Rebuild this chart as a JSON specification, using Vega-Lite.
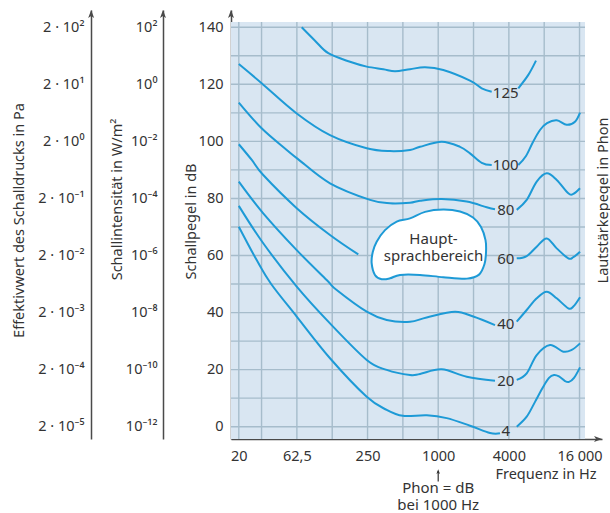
{
  "$schema": "https://vega.github.io/schema/vega-lite/v6.json",
  "width": 371,
  "height": 429,
  "autosize": {"type": "none"},
  "padding": {"left": 231, "top": 10, "right": 8, "bottom": 74},
  "background": "white",
  "config": {
    "view": {"stroke": null},
    "font": "Noto Sans",
    "text": {"font": "Noto Sans"},
    "axis": {
      "labelFont": "Noto Sans", "titleFont": "Noto Sans",
      "labelFontSize": 14.5, "titleFontSize": 14.5, "titleFontWeight": "normal",
      "labelColor": "#333333", "titleColor": "#333333",
      "domainColor": "#4a4a4a", "domainWidth": 1.5,
      "ticks": false, "tickSize": 0, "grid": false,
      "labelOverlap": false, "labelFlush": false, "labelBound": false
    }
  },
  "resolve": {"axis": {"y": "independent"}},
  "layer": [
    {
      "data": {"values": [{}]},
      "mark": {"type": "rect", "color": "#d9e6f2"},
      "encoding": {
        "x": {"datum": 17.16, "type": "quantitative",
          "scale": {"type": "log", "domain": [17.16, 24866], "nice": false},
          "axis": {
            "values": [20, 62.5, 250, 1000, 4000, 16000],
            "labelExpr": "datum.value == 62.5 ? '62,5' : datum.value == 16000 ? '16 000' : format(datum.value, 'd')",
            "labelPadding": 10,
            "title": "Frequenz in Hz", "titleX": 365, "titleY": 39,
            "titleAlign": "right", "titleBaseline": "alphabetic", "titleAnchor": "end"
          }},
        "x2": {"datum": 17816},
        "y": {"datum": -4.31, "type": "quantitative",
          "scale": {"domain": [-4.31, 146.05], "nice": false, "zero": false},
          "axis": {
            "orient": "left",
            "values": [0, 20, 40, 60, 80, 100, 120, 140],
            "labelPadding": 8,
            "title": "Schallpegel in dB", "titleX": -40, "titleY": 211,
            "titleAngle": 270, "titleAlign": "center", "titleBaseline": "middle"
          }},
        "y2": {"datum": 141.85}
      }
    },
    {
      "data": {"values": [{"freq": 20}, {"freq": 31.25}, {"freq": 62.5}, {"freq": 125}, {"freq": 250}, {"freq": 500}, {"freq": 1000}, {"freq": 2000}, {"freq": 4000}, {"freq": 8000}, {"freq": 16000}]},
      "mark": {"type": "rule", "color": "#a6bccb", "strokeWidth": 1.4},
      "encoding": {
        "x": {"field": "freq", "type": "quantitative"},
        "y": {"datum": -4.31, "type": "quantitative", "axis": null},
        "y2": {"datum": 141.85}
      }
    },
    {
      "data": {"values": [{"db": 0}, {"db": 10}, {"db": 20}, {"db": 30}, {"db": 40}, {"db": 50}, {"db": 60}, {"db": 70}, {"db": 80}, {"db": 90}, {"db": 100}, {"db": 110}, {"db": 120}, {"db": 130}, {"db": 140}]},
      "mark": {"type": "rule", "color": "#a6bccb", "strokeWidth": 1.4},
      "encoding": {
        "x": {"datum": 17.16, "type": "quantitative"},
        "x2": {"datum": 17816},
        "y": {"field": "db", "type": "quantitative", "axis": null}
      }
    },
    {
      "data": {"values": [
        {"phon": 125, "seg": 1, "freq": 68.7, "db": 140.0},
        {"phon": 125, "seg": 1, "freq": 89.2, "db": 135.3},
        {"phon": 125, "seg": 1, "freq": 115.8, "db": 130.9},
        {"phon": 125, "seg": 1, "freq": 177.2, "db": 127.9},
        {"phon": 125, "seg": 1, "freq": 246, "db": 126.2},
        {"phon": 125, "seg": 1, "freq": 340.6, "db": 125.3},
        {"phon": 125, "seg": 1, "freq": 428.5, "db": 124.6},
        {"phon": 125, "seg": 1, "freq": 575, "db": 125.3},
        {"phon": 125, "seg": 1, "freq": 772, "db": 126.0},
        {"phon": 125, "seg": 1, "freq": 1105, "db": 125.0},
        {"phon": 125, "seg": 1, "freq": 1866, "db": 121.3},
        {"phon": 125, "seg": 1, "freq": 2348, "db": 118.6},
        {"phon": 125, "seg": 1, "freq": 2857, "db": 117.4},
        {"phon": 125, "seg": 2, "freq": 4814, "db": 118.6},
        {"phon": 125, "seg": 2, "freq": 5858, "db": 123.3},
        {"phon": 125, "seg": 2, "freq": 6812, "db": 128.3},

        {"phon": 100, "seg": 1, "freq": 20, "db": 127.1},
        {"phon": 100, "seg": 1, "freq": 31.3, "db": 120.4},
        {"phon": 100, "seg": 1, "freq": 62.3, "db": 109.8},
        {"phon": 100, "seg": 1, "freq": 119.7, "db": 102.2},
        {"phon": 100, "seg": 1, "freq": 246, "db": 97.6},
        {"phon": 100, "seg": 1, "freq": 388.5, "db": 96.6},
        {"phon": 100, "seg": 1, "freq": 575, "db": 97.0},
        {"phon": 100, "seg": 1, "freq": 700, "db": 98.1},
        {"phon": 100, "seg": 1, "freq": 1071, "db": 99.9},
        {"phon": 100, "seg": 1, "freq": 1534, "db": 98.1},
        {"phon": 100, "seg": 1, "freq": 1866, "db": 95.8},
        {"phon": 100, "seg": 1, "freq": 2348, "db": 92.5},
        {"phon": 100, "seg": 1, "freq": 2857, "db": 91.7},
        {"phon": 100, "seg": 2, "freq": 4814, "db": 91.7},
        {"phon": 100, "seg": 2, "freq": 5598, "db": 94.9},
        {"phon": 100, "seg": 2, "freq": 6422, "db": 99.8},
        {"phon": 100, "seg": 2, "freq": 7368, "db": 104.0},
        {"phon": 100, "seg": 2, "freq": 8458, "db": 106.4},
        {"phon": 100, "seg": 2, "freq": 10226, "db": 107.4},
        {"phon": 100, "seg": 2, "freq": 12440, "db": 105.8},
        {"phon": 100, "seg": 2, "freq": 14640, "db": 106.9},
        {"phon": 100, "seg": 2, "freq": 16160, "db": 110.1},

        {"phon": 80, "seg": 1, "freq": 20, "db": 113.6},
        {"phon": 80, "seg": 1, "freq": 31.3, "db": 104.6},
        {"phon": 80, "seg": 1, "freq": 51.2, "db": 97.0},
        {"phon": 80, "seg": 1, "freq": 64.3, "db": 93.7},
        {"phon": 80, "seg": 1, "freq": 119.7, "db": 85.3},
        {"phon": 80, "seg": 1, "freq": 262.5, "db": 79.5},
        {"phon": 80, "seg": 1, "freq": 388.5, "db": 78.3},
        {"phon": 80, "seg": 1, "freq": 575, "db": 78.5},
        {"phon": 80, "seg": 1, "freq": 700, "db": 79.2},
        {"phon": 80, "seg": 1, "freq": 1071, "db": 79.8},
        {"phon": 80, "seg": 1, "freq": 1750, "db": 78.9},
        {"phon": 80, "seg": 1, "freq": 2590, "db": 76.9},
        {"phon": 80, "seg": 1, "freq": 3048, "db": 76.2},
        {"phon": 80, "seg": 2, "freq": 4666, "db": 76.0},
        {"phon": 80, "seg": 2, "freq": 5676, "db": 79.5},
        {"phon": 80, "seg": 2, "freq": 6906, "db": 85.9},
        {"phon": 80, "seg": 2, "freq": 8404, "db": 88.8},
        {"phon": 80, "seg": 2, "freq": 10226, "db": 86.5},
        {"phon": 80, "seg": 2, "freq": 12840, "db": 81.8},
        {"phon": 80, "seg": 2, "freq": 14160, "db": 81.6},
        {"phon": 80, "seg": 2, "freq": 16160, "db": 83.6},

        {"phon": 60, "seg": 1, "freq": 20, "db": 99.0},
        {"phon": 60, "seg": 1, "freq": 25.8, "db": 93.5},
        {"phon": 60, "seg": 1, "freq": 32.3, "db": 88.2},
        {"phon": 60, "seg": 1, "freq": 62.3, "db": 76.6},
        {"phon": 60, "seg": 1, "freq": 119.7, "db": 67.2},
        {"phon": 60, "seg": 1, "freq": 208.5, "db": 60.4},
        {"phon": 60, "seg": 2, "freq": 4666, "db": 59.0},
        {"phon": 60, "seg": 2, "freq": 5676, "db": 59.8},
        {"phon": 60, "seg": 2, "freq": 6906, "db": 63.1},
        {"phon": 60, "seg": 2, "freq": 8404, "db": 66.0},
        {"phon": 60, "seg": 2, "freq": 10226, "db": 62.5},
        {"phon": 60, "seg": 2, "freq": 12840, "db": 59.0},
        {"phon": 60, "seg": 2, "freq": 14160, "db": 59.4},
        {"phon": 60, "seg": 2, "freq": 16160, "db": 61.3},

        {"phon": 40, "seg": 1, "freq": 20, "db": 85.9},
        {"phon": 40, "seg": 1, "freq": 32.3, "db": 74.8},
        {"phon": 40, "seg": 1, "freq": 62.3, "db": 61.9},
        {"phon": 40, "seg": 1, "freq": 112.2, "db": 51.4},
        {"phon": 40, "seg": 1, "freq": 136.5, "db": 47.9},
        {"phon": 40, "seg": 1, "freq": 246, "db": 40.3},
        {"phon": 40, "seg": 1, "freq": 364, "db": 37.4},
        {"phon": 40, "seg": 1, "freq": 575, "db": 36.8},
        {"phon": 40, "seg": 1, "freq": 798, "db": 38.3},
        {"phon": 40, "seg": 1, "freq": 1390, "db": 40.3},
        {"phon": 40, "seg": 1, "freq": 1990, "db": 38.6},
        {"phon": 40, "seg": 1, "freq": 3048, "db": 35.6},
        {"phon": 40, "seg": 2, "freq": 4666, "db": 36.8},
        {"phon": 40, "seg": 2, "freq": 5676, "db": 40.9},
        {"phon": 40, "seg": 2, "freq": 6906, "db": 45.0},
        {"phon": 40, "seg": 2, "freq": 8404, "db": 47.3},
        {"phon": 40, "seg": 2, "freq": 10226, "db": 45.0},
        {"phon": 40, "seg": 2, "freq": 12840, "db": 41.5},
        {"phon": 40, "seg": 2, "freq": 14160, "db": 42.1},
        {"phon": 40, "seg": 2, "freq": 16160, "db": 45.4},

        {"phon": 20, "seg": 1, "freq": 20, "db": 77.4},
        {"phon": 20, "seg": 1, "freq": 32.3, "db": 64.3},
        {"phon": 20, "seg": 1, "freq": 62.3, "db": 49.1},
        {"phon": 20, "seg": 1, "freq": 119.7, "db": 36.2},
        {"phon": 20, "seg": 1, "freq": 246, "db": 23.4},
        {"phon": 20, "seg": 1, "freq": 364, "db": 19.9},
        {"phon": 20, "seg": 1, "freq": 575, "db": 18.1},
        {"phon": 20, "seg": 1, "freq": 700, "db": 18.5},
        {"phon": 20, "seg": 1, "freq": 1071, "db": 20.1},
        {"phon": 20, "seg": 1, "freq": 1750, "db": 17.5},
        {"phon": 20, "seg": 1, "freq": 3048, "db": 16.1},
        {"phon": 20, "seg": 2, "freq": 4666, "db": 16.4},
        {"phon": 20, "seg": 2, "freq": 5676, "db": 18.7},
        {"phon": 20, "seg": 2, "freq": 6906, "db": 25.1},
        {"phon": 20, "seg": 2, "freq": 8964, "db": 28.6},
        {"phon": 20, "seg": 2, "freq": 11640, "db": 26.3},
        {"phon": 20, "seg": 2, "freq": 13730, "db": 26.9},
        {"phon": 20, "seg": 2, "freq": 16160, "db": 29.2},

        {"phon": 4, "seg": 1, "freq": 20, "db": 70.1},
        {"phon": 4, "seg": 1, "freq": 28.4, "db": 58.4},
        {"phon": 4, "seg": 1, "freq": 37.6, "db": 50.1},
        {"phon": 4, "seg": 1, "freq": 62.3, "db": 38.6},
        {"phon": 4, "seg": 1, "freq": 119.7, "db": 24.0},
        {"phon": 4, "seg": 1, "freq": 246, "db": 10.5},
        {"phon": 4, "seg": 1, "freq": 364, "db": 5.9},
        {"phon": 4, "seg": 1, "freq": 500, "db": 3.8},
        {"phon": 4, "seg": 1, "freq": 800, "db": 4.0},
        {"phon": 4, "seg": 1, "freq": 1182, "db": 3.0},
        {"phon": 4, "seg": 1, "freq": 1866, "db": 0.35},
        {"phon": 4, "seg": 1, "freq": 2764, "db": -2.2},
        {"phon": 4, "seg": 1, "freq": 3362, "db": -2.3},
        {"phon": 4, "seg": 2, "freq": 4666, "db": 0.0},
        {"phon": 4, "seg": 2, "freq": 5676, "db": 3.5},
        {"phon": 4, "seg": 2, "freq": 6682, "db": 8.7},
        {"phon": 4, "seg": 2, "freq": 7826, "db": 13.9},
        {"phon": 4, "seg": 2, "freq": 8792, "db": 17.1},
        {"phon": 4, "seg": 2, "freq": 9702, "db": 18.1},
        {"phon": 4, "seg": 2, "freq": 10698, "db": 17.6},
        {"phon": 4, "seg": 2, "freq": 12036, "db": 16.0},
        {"phon": 4, "seg": 2, "freq": 13022, "db": 15.7},
        {"phon": 4, "seg": 2, "freq": 14362, "db": 17.1},
        {"phon": 4, "seg": 2, "freq": 16160, "db": 20.8}
      ]},
      "mark": {"type": "line", "color": "#1d9ad6", "strokeWidth": 2, "interpolate": "cardinal"},
      "encoding": {
        "x": {"field": "freq", "type": "quantitative"},
        "y": {"field": "db", "type": "quantitative", "axis": null},
        "detail": [{"field": "phon"}, {"field": "seg"}]
      }
    },
    {
      "data": {"values": [
        {"i": 1, "freq": 575, "db": 73.0},
        {"i": 2, "freq": 772, "db": 75.3},
        {"i": 3, "freq": 1105, "db": 76.1},
        {"i": 4, "freq": 1534, "db": 75.4},
        {"i": 5, "freq": 1980, "db": 73.3},
        {"i": 6, "freq": 2316, "db": 70.0},
        {"i": 7, "freq": 2530, "db": 65.4},
        {"i": 8, "freq": 2555, "db": 61.2},
        {"i": 9, "freq": 2480, "db": 57.0},
        {"i": 10, "freq": 2228, "db": 53.3},
        {"i": 11, "freq": 1760, "db": 51.9},
        {"i": 12, "freq": 1105, "db": 52.4},
        {"i": 13, "freq": 700, "db": 53.2},
        {"i": 14, "freq": 473, "db": 53.2},
        {"i": 15, "freq": 388.5, "db": 52.0},
        {"i": 16, "freq": 330, "db": 51.7},
        {"i": 17, "freq": 289, "db": 53.2},
        {"i": 18, "freq": 271, "db": 57.3},
        {"i": 19, "freq": 277, "db": 61.2},
        {"i": 20, "freq": 299, "db": 64.8},
        {"i": 21, "freq": 352, "db": 68.9},
        {"i": 22, "freq": 443, "db": 71.9}
      ]},
      "mark": {"type": "line", "interpolate": "cardinal-closed", "fill": "white", "stroke": "#1d9ad6", "strokeWidth": 2},
      "encoding": {
        "x": {"field": "freq", "type": "quantitative"},
        "y": {"field": "db", "type": "quantitative", "axis": null},
        "order": {"field": "i", "type": "quantitative"}
      }
    },
    {
      "data": {"values": [{"freq": 912, "db": 64.0, "text": ["Haupt-", "sprachbereich"]}]},
      "mark": {"type": "text", "fontSize": 15, "color": "#333333", "align": "center", "baseline": "alphabetic", "lineHeight": 17},
      "encoding": {
        "x": {"field": "freq", "type": "quantitative"},
        "y": {"field": "db", "type": "quantitative", "axis": null},
        "text": {"field": "text"}
      }
    },
    {
      "data": {"values": [
        {"label": "125", "freq": 3760, "db": 116.9},
        {"label": "100", "freq": 3760, "db": 91.6},
        {"label": "80", "freq": 3760, "db": 75.8},
        {"label": "60", "freq": 3760, "db": 58.7},
        {"label": "40", "freq": 3760, "db": 35.9},
        {"label": "20", "freq": 3760, "db": 16.1},
        {"label": "4", "freq": 3760, "db": -1.6}
      ]},
      "mark": {"type": "text", "fontSize": 15, "color": "#333333", "align": "center", "baseline": "middle"},
      "encoding": {
        "x": {"field": "freq", "type": "quantitative"},
        "y": {"field": "db", "type": "quantitative", "axis": null},
        "text": {"field": "label"}
      }
    },
    {
      "data": {"values": [{"text": ["Phon = dB", "bei 1000 Hz"]}]},
      "mark": {"type": "text", "fontSize": 15, "color": "#333333", "align": "center", "baseline": "alphabetic", "lineHeight": 17},
      "encoding": {
        "x": {"datum": 1000, "type": "quantitative"},
        "y": {"datum": -23.3, "type": "quantitative", "axis": null},
        "text": {"field": "text"}
      }
    },
    {
      "data": {"values": [{}]},
      "mark": {"type": "rule", "color": "#333333", "strokeWidth": 1.2},
      "encoding": {
        "x": {"datum": 1000, "type": "quantitative"},
        "y": {"datum": -15.5, "type": "quantitative", "axis": null},
        "y2": {"datum": -19.2}
      }
    },
    {
      "data": {"values": [{}]},
      "mark": {"type": "point", "shape": "M0,0L0.9,2.4L0,1.8L-0.9,2.4Z", "size": 16, "filled": true, "color": "#333333", "opacity": 1},
      "encoding": {
        "x": {"datum": 1000, "type": "quantitative"},
        "y": {"datum": -14.9, "type": "quantitative", "axis": null}
      }
    },
    {
      "data": {"values": [{}]},
      "mark": {"type": "point", "shape": "M0,0L0.9,2.4L0,1.8L-0.9,2.4Z", "size": 44, "filled": true, "color": "#4a4a4a", "opacity": 1},
      "encoding": {
        "x": {"datum": 17.16, "type": "quantitative"},
        "y": {"datum": 146.05, "type": "quantitative", "axis": null}
      }
    },
    {
      "data": {"values": [{}]},
      "mark": {"type": "point", "shape": "M0,0L0.9,2.4L0,1.8L-0.9,2.4Z", "size": 44, "filled": true, "color": "#4a4a4a", "opacity": 1},
      "encoding": {
        "x": {"datum": 4.52, "type": "quantitative"},
        "y": {"datum": 146.05, "type": "quantitative",
          "axis": {
            "orient": "left", "offset": 68,
            "values": [0, 20, 40, 60, 80, 100, 120, 140],
            "labelExpr": "['10⁻¹²','10⁻¹⁰','10⁻⁸','10⁻⁶','10⁻⁴','10⁻²','10⁰','10²'][datum.value/20]",
            "labelPadding": 6,
            "title": "Schallintensität in W/m²", "titleX": -46, "titleY": 189,
            "titleAngle": 270, "titleAlign": "center", "titleBaseline": "middle"
          }}
      }
    },
    {
      "data": {"values": [{}]},
      "mark": {"type": "point", "shape": "M0,0L0.9,2.4L0,1.8L-0.9,2.4Z", "size": 44, "filled": true, "color": "#4a4a4a", "opacity": 1},
      "encoding": {
        "x": {"datum": 1.104, "type": "quantitative"},
        "y": {"datum": 146.05, "type": "quantitative",
          "axis": {
            "orient": "left", "offset": 140,
            "values": [0, 20, 40, 60, 80, 100, 120, 140],
            "labelExpr": "['2 · 10⁻⁵','2 · 10⁻⁴','2 · 10⁻³','2 · 10⁻²','2 · 10⁻¹','2 · 10⁰','2 · 10¹','2 · 10²'][datum.value/20]",
            "labelPadding": 7,
            "title": "Effektivwert des Schalldrucks in Pa", "titleX": -72, "titleY": 210,
            "titleAngle": 270, "titleAlign": "center", "titleBaseline": "middle"
          }}
      }
    },
    {
      "data": {"values": [{}]},
      "mark": {"type": "point", "shape": "M0,0L-2.4,-0.9L-1.8,0L-2.4,0.9Z", "size": 44, "filled": true, "color": "#4a4a4a", "opacity": 1},
      "encoding": {
        "x": {"datum": 24866, "type": "quantitative"},
        "y": {"datum": -4.31, "type": "quantitative",
          "axis": {
            "orient": "right", "domain": false, "labels": false,
            "values": [0],
            "title": "Lautstärkepegel in Phon", "titleX": 1, "titleY": 190,
            "titleAngle": 270, "titleAlign": "center", "titleBaseline": "middle"
          }}
      }
    }
  ]
}
